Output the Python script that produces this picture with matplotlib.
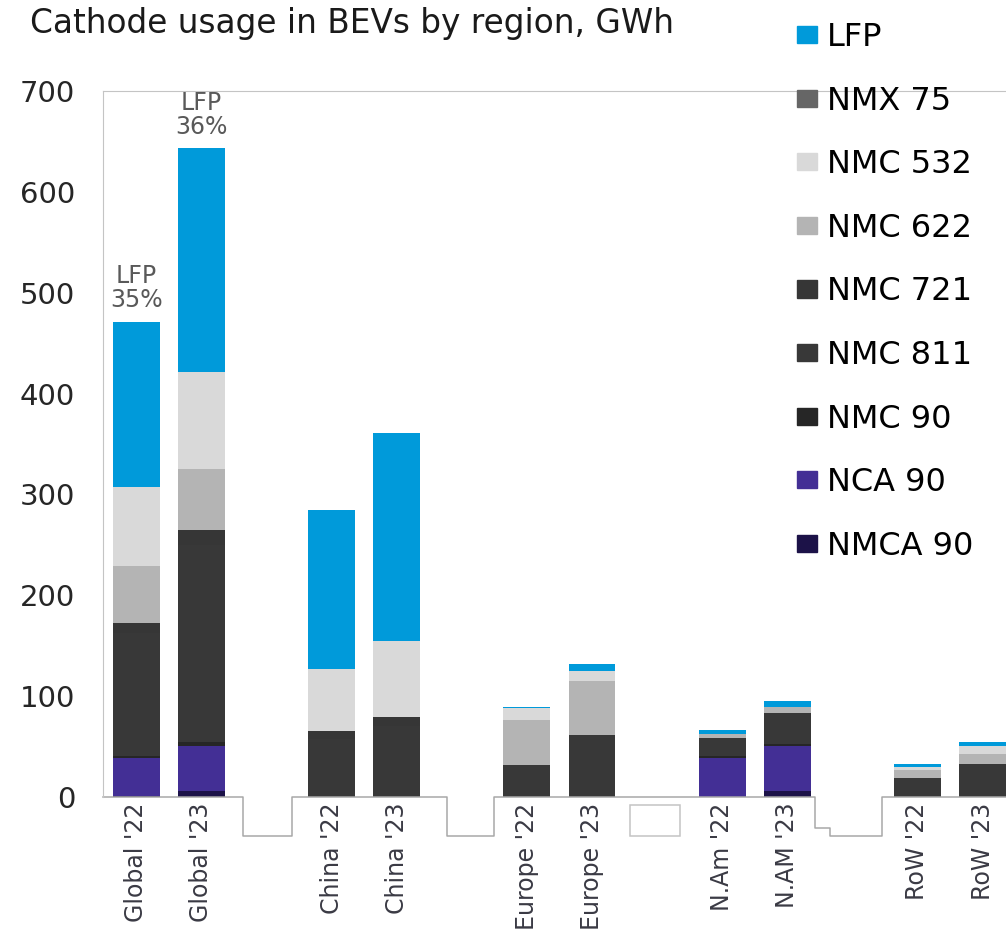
import matplotlib.pyplot as plt
import matplotlib.transforms as mtransforms
from matplotlib.patches import Patch, Rectangle

# data (GWh)
categories = ["Global '22", "Global '23", "China '22", "China '23", "Europe '22",
              "Europe '23", "N.Am '22", "N.AM '23", "RoW '22", "RoW '23"]
slots = [0, 1, 3, 4, 6, 7, 9, 10, 12, 13]   # one empty slot between regions

nmca_90 = [1, 6, 0, 0, 0, 0, 0, 6, 0, 0]
nca_90 = [38, 45, 0, 0, 0, 0, 39, 45, 0, 0]
nmc_90 = [2, 4, 0, 0, 0, 0, 1.5, 1.5, 0, 0]
nmc_811 = [122, 195, 58, 70, 32, 61, 18, 31, 19, 33]
nmc_721 = [10, 15, 7, 9, 0, 0, 0, 0, 0, 0]
nmc_622 = [56, 60, 0, 0, 44, 54, 4, 6, 8, 10]
nmc_532 = [78, 96, 62, 76, 12, 10, 0, 0, 3, 8]
nmx_75 = [0, 0, 0, 0, 0, 0, 0, 0, 0, 0]
lfp = [164, 222, 158, 206, 1.5, 7, 4, 6, 2.5, 4]

lfp_labels = {0: "LFP\n35%", 1: "LFP\n36%"}

# bottom -> top
series = [
    ("NMCA 90", nmca_90, "#1c1248"),
    ("NCA 90", nca_90, "#432f95"),
    ("NMC 90", nmc_90, "#262626"),
    ("NMC 811", nmc_811, "#383838"),
    ("NMC 721", nmc_721, "#363636"),
    ("NMC 622", nmc_622, "#b4b4b4"),
    ("NMC 532", nmc_532, "#d9d9d9"),
    ("NMX 75", nmx_75, "#666666"),
    ("LFP", lfp, "#009ada"),
]

fig = plt.figure(figsize=(10.06, 9.31), dpi=100)
ax = fig.add_axes([103 / 1006, 134 / 931, 903 / 1006, 706 / 931])

bottom = [0.0] * len(categories)
for name, vals, col in series:
    ax.bar(slots, vals, width=0.72, bottom=bottom, color=col, linewidth=0)
    bottom = [b + v for b, v in zip(bottom, vals)]

for i, txt in lfp_labels.items():
    ax.annotate(txt, (slots[i], bottom[i]), xytext=(0, 7), textcoords="offset points",
                ha="center", va="bottom", fontsize=17, color="#595959", linespacing=1.0)

ax.set_xlim(-0.512, 13.36)
ax.set_ylim(0, 700)
ax.set_yticks(range(0, 701, 100))
ax.tick_params(axis="y", length=0, pad=20, labelsize=21, colors="#262626")
ax.set_xticks(slots)
ax.set_xticklabels(categories, rotation=90, fontsize=17, color="#3a3a44")
ax.tick_params(axis="x", length=0, pad=4)

for s in ["left", "top"]:
    ax.spines[s].set_color("#c4c4c4")
ax.spines["right"].set_visible(False)
ax.spines["bottom"].set_visible(False)

# category axis baseline with the gaps between regions
tr = mtransforms.blended_transform_factory(ax.transData, ax.transAxes)
d, d2, bt = 0.0552, 0.0439, 0.0113
bx = [-0.512, 1.64, 1.64, 2.39, 2.39, 4.77, 4.77, 5.49, 5.49,
      10.43, 10.43, 10.66, 10.66, 11.45, 11.45, 13.36]
by = [0, 0, -d, -d, 0, 0, -d, -d, 0, 0, -d2, -d2, -d, -d, 0, 0]
ax.plot(bx, by, color="#a8a8a8", lw=1.1, transform=tr, clip_on=False)
ax.add_patch(Rectangle((7.58, -d), 0.77, d - bt, transform=tr, fill=False,
                       edgecolor="#c4c4c4", lw=1.1, clip_on=False))

fig.text(30 / 1006, 1 - 33 / 931, "Cathode usage in BEVs by region, GWh",
         fontsize=23.6, color="#1a1a1a", va="baseline")

handles = [Patch(color=c, label=n) for n, v, c in series[::-1]]
fig.legend(handles=handles, loc="upper left", bbox_to_anchor=(797 / 1006, 1 - 22 / 931),
           frameon=False, fontsize=23, handlelength=0.63, handleheight=0.45,
           handletextpad=0.3, labelspacing=1.02, borderpad=0, borderaxespad=0)

fig.savefig("out.png", dpi=100)
